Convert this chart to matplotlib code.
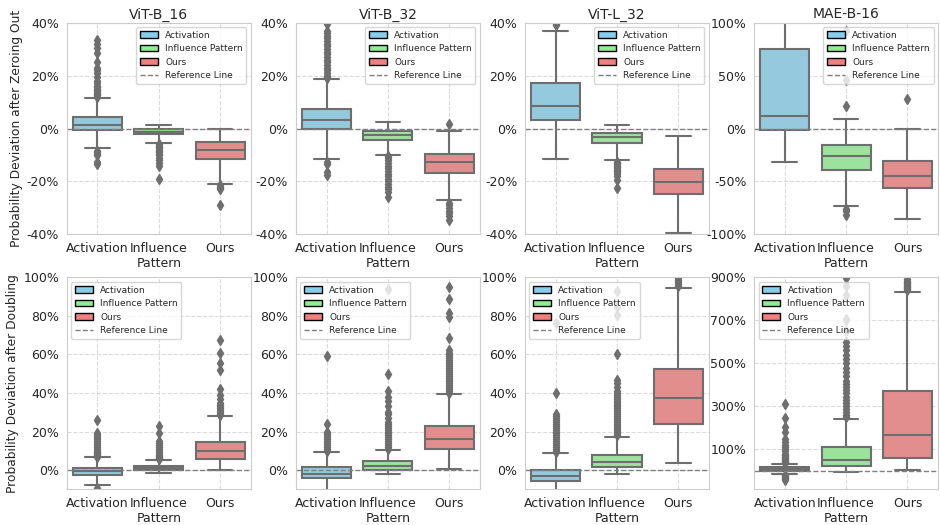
import colorsys
import matplotlib
matplotlib.use("Agg")
import matplotlib.pyplot as plt
import matplotlib.colors as mcolors
import matplotlib.patches as mpatches
from matplotlib.lines import Line2D
from matplotlib.ticker import FuncFormatter
import seaborn as sns

# models (columns) and methods (boxes in each panel)
models = ["ViT-B_16", "ViT-B_32", "ViT-L_32", "MAE-B-16"]
methods = ["Activation", "Influence\nPattern", "Ours"]
legend_names = ["Activation", "Influence Pattern", "Ours"]
colors = ["skyblue", "lightgreen", "lightcoral"]

# --- zeroing out (top row), values in % ---
zero_q1 = [[-0.6, -2.2, -11.5], [-0.2, -4.3, -16.7], [3.3, -5.6, -24.9], [-1.4, -39.2, -55.9]]
zero_med = [[1.3, -1.2, -8.1], [3.1, -2.3, -12.8], [8.5, -3.2, -20.2], [11.8, -26.0, -44.6]]
zero_q3 = [[4.3, 0.0, -5.1], [7.4, -0.8, -9.6], [17.1, -1.6, -15.3], [75.4, -15.6, -30.4]]
zero_lo = [[-7.5, -5.5, -20.9], [-11.4, -9.9, -27.0], [-11.4, -11.9, -39.4], [-31.7, -73.5, -85.5]]
zero_hi = [[11.6, 1.3, 0.0], [18.6, 2.5, -0.8], [36.7, 1.3, -2.8], [130.0, 9.3, -0.5]]
zero_fliers = [
    [[12, 12.5, 13, 13.5, 14, 14.5, 15, 15.5, 16, 17, 18, 19.5, 21, 22, 23, 25, 28.5, 30.5, 32, 33.5,
      -8.5, -9, -9.5, -10, -12.5, -13.5],
     [-6, -6.5, -7, -7.5, -8, -8.5, -9, -9.5, -10, -11, -12, -13, -14, -19],
     [-21.5, -22, -22.5, -23, -29]],
    [[19, 19.5, 20, 21, 22, 23, 24, 25, 26, 27, 28, 29, 30, 31, 32, 33, 34, 35, 36, 37, 39.5,
      -12.5, -13.5, -16.5, -17.5],
     [-10.5, -11, -12, -13, -14, -15, -16, -17, -18, -19, -20, -21, -22, -23, -24, -26],
     [1.7, -28, -29, -30, -31, -32, -33, -34.5]],
    [[39, 39.5],
     [-12.5, -13, -13.5, -14, -14.5, -15, -15.5, -16, -16.5, -17, -18, -19.5, -22.5],
     []],
    [[],
     [21.3, 45.8, 92.4, -76, -78, -82],
     [28.2]],
]

# --- doubling (bottom row), values in % ---
dbl_q1 = [[-2.8, -0.2, 5.5], [-4.2, 0.2, 10.7], [-5.7, 1.6, 24.1], [-2.2, 21.0, 59.7]]
dbl_med = [[-0.7, 1.2, 10.0], [-1.9, 2.1, 16.3], [-3.1, 4.0, 37.2], [7.0, 52.0, 165.0]]
dbl_q3 = [[1.2, 2.1, 14.7], [1.4, 4.7, 22.7], [0.2, 8.0, 52.5], [16.4, 110.8, 370.7]]
dbl_lo = [[-8.0, -1.4, -0.2], [-12.0, -2.3, 0.3], [-14.0, -1.9, 3.5], [-16.0, -6.8, 4.0]]
dbl_hi = [[6.6, 5.2, 28.1], [9.4, 10.6, 39.3], [8.8, 17.3, 94.4], [33.4, 240.8, 831.7]]
dbl_fliers = [
    [[7, 7.5, 8, 8.5, 9, 9.5, 10, 11, 12, 13, 14, 15, 16, 17, 18, 19, 26.2, -9.4],
     [5.5, 6, 6.5, 7, 7.5, 8, 9, 10, 11, 12, 13, 14, 15, 19, 22.9],
     [28.5, 29, 30, 31, 32, 33, 34, 35, 37, 39, 41.9, 52, 55.8, 61, 67.7]],
    [[10, 11, 12, 13, 14, 15, 16, 17, 18, 19, 20, 23.9, 59.3],
     [11, 12, 13, 14, 15, 16, 17, 18, 19, 20, 21, 22, 23, 24, 25, 27, 29, 30, 33, 36, 38, 41, 49.7, 93.9],
     [40, 41, 42, 43, 44, 45, 46, 47, 48, 49, 50, 51, 52, 53, 54, 55, 56, 57, 58, 59, 60, 61, 62.5,
      68.6, 79.3, 81.5, 88.9, 94.9]],
    [[9.5, 10, 11, 12, 13, 14, 15, 16, 17, 18, 19, 20, 21, 22, 23, 24, 25, 26, 27, 28, 29, 40, 76.6],
     [18, 19, 20, 21, 22, 23, 24, 25, 26, 27, 28, 29, 30, 31, 32, 33, 34, 35, 36, 37, 38, 39, 40, 41,
      43, 45, 47, 60, 80.4, 84.7, 93],
     [95.5, 96.5, 97.5, 98.5, 99.5]],
    [[35, 40, 45, 50, 55, 60, 65, 70, 75, 80, 90, 100, 110, 120, 135, 150, 180, 205, 247, 312,
      -20, -25, -30, -35, -39, -45],
     [250, 260, 275, 290, 300, 315, 330, 345, 360, 375, 390, 405, 420, 440, 460, 480, 500, 520, 540,
      560, 580, 600, 650, 700, 708, 820, 860, 898],
     [840, 845, 850, 855, 860, 865, 870, 875, 880, 885, 893]],
]

zero_ylims = [(-40, 40), (-40, 40), (-40, 40), (-100, 100)]
zero_ticks = [[-40, -20, 0, 20, 40]] * 3 + [[-100, -50, 0, 50, 100]]
dbl_ylims = [(-10, 100), (-10, 100), (-10, 100), (-86, 900)]
dbl_ticks = [[0, 20, 40, 60, 80, 100]] * 3 + [[100, 300, 500, 700, 900]]


def desaturate(color, prop):
    r, g, b = mcolors.to_rgb(color)
    h, l, s = colorsys.rgb_to_hls(r, g, b)
    return colorsys.hls_to_rgb(h, l, s * prop)


box_colors = [desaturate(c, 0.75) for c in colors]
lum = min(colorsys.rgb_to_hls(*c)[1] for c in box_colors) * 0.6
line_gray = (lum, lum, lum)


def draw_panel(ax, q1, med, q3, lo, hi, fliers, ylim, ticks, title, legend_loc):
    stats = []
    for i in range(3):
        stats.append(dict(med=med[i], q1=q1[i], q3=q3[i], whislo=lo[i], whishi=hi[i],
                          fliers=fliers[i], label=methods[i]))
    bp = ax.bxp(stats, positions=[0, 1, 2], widths=0.8, capwidths=0.4, patch_artist=True,
                boxprops=dict(edgecolor=line_gray, linewidth=1.5),
                whiskerprops=dict(color=line_gray, linewidth=1.5),
                capprops=dict(color=line_gray, linewidth=1.5),
                medianprops=dict(color=line_gray, linewidth=1.5),
                flierprops=dict(marker="d", markersize=5, markerfacecolor=line_gray,
                                markeredgecolor=line_gray, linestyle="none"))
    for patch, c in zip(bp["boxes"], box_colors):
        patch.set_facecolor(c)

    ax.axhline(0, color="gray", linestyle="--", linewidth=1)
    ax.set_ylim(*ylim)
    ax.set_yticks(ticks)
    ax.yaxis.set_major_formatter(FuncFormatter(lambda y, _: f"{y:.0f}%"))
    ax.set_xlim(-0.5, 2.5)
    ax.set_xticks([0, 1, 2])
    ax.set_xticklabels(methods)
    ax.tick_params(labelsize=9, pad=2)
    ax.grid(True, linestyle="--", alpha=0.7)
    if title:
        ax.set_title(title, fontsize=10, pad=3)

    handles = [mpatches.Patch(facecolor=c, edgecolor="black", label=n)
               for c, n in zip(colors, legend_names)]
    handles.append(Line2D([0], [0], color="gray", linestyle="--", linewidth=1, label="Reference Line"))
    ax.legend(handles=handles, loc=legend_loc, fontsize=6.5)


sns.set_style("whitegrid")
fig, axes = plt.subplots(2, 4, figsize=(9.4, 5.25), dpi=100)
fig.subplots_adjust(left=0.071, right=0.998, top=0.957, bottom=0.068, wspace=0.245, hspace=0.203)

for j in range(4):
    draw_panel(axes[0, j], zero_q1[j], zero_med[j], zero_q3[j], zero_lo[j], zero_hi[j],
               zero_fliers[j], zero_ylims[j], zero_ticks[j], models[j], "upper right")
    draw_panel(axes[1, j], dbl_q1[j], dbl_med[j], dbl_q3[j], dbl_lo[j], dbl_hi[j],
               dbl_fliers[j], dbl_ylims[j], dbl_ticks[j], None, "upper left")

axes[0, 0].set_ylabel("Probability Deviation after Zeroing Out", fontsize=8.8, labelpad=3)
axes[1, 0].set_ylabel("Probability Deviation after Doubling", fontsize=8.8, labelpad=3)

plt.savefig("out.png", dpi=100)
